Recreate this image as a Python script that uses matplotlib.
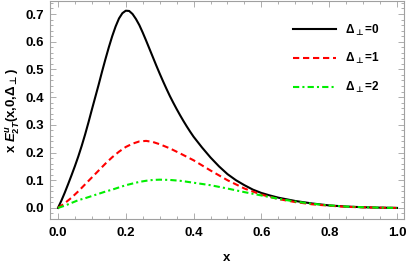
import numpy as np
import matplotlib
matplotlib.use("Agg")
import matplotlib.pyplot as plt
from matplotlib.ticker import MultipleLocator, FormatStrFormatter

plt.rcParams['font.family'] = ['Liberation Sans', 'DejaVu Sans']
plt.rcParams['font.weight'] = 'bold'
plt.rcParams['mathtext.fontset'] = 'custom'
plt.rcParams['mathtext.rm'] = 'Liberation Sans:bold'
plt.rcParams['mathtext.it'] = 'Liberation Sans:bold:italic'
plt.rcParams['mathtext.bf'] = 'Liberation Sans:bold'
plt.rcParams['mathtext.sf'] = 'DejaVu Sans:bold'
plt.rcParams['mathtext.fallback'] = 'stixsans'

# values
x_d0 = [0, 0.01, 0.02, 0.03, 0.04, 0.05, 0.06, 0.07, 0.08, 0.09, 0.10, 0.11,
        0.12, 0.13, 0.14, 0.15, 0.16, 0.17, 0.18, 0.19, 0.20, 0.21, 0.22, 0.23,
        0.24, 0.25, 0.26, 0.27, 0.28, 0.29, 0.30, 0.31, 0.32, 0.33, 0.34, 0.35,
        0.36, 0.37, 0.38, 0.39, 0.40, 0.425, 0.45, 0.475, 0.50, 0.525, 0.55,
        0.575, 0.60, 0.625, 0.65, 0.675, 0.70, 0.75, 0.80, 0.85, 0.90, 0.95, 1.0]
e_d0 = [0, 0.026, 0.055, 0.086, 0.118, 0.151, 0.186, 0.224, 0.265, 0.309,
        0.355, 0.400, 0.445, 0.492, 0.537, 0.580, 0.620, 0.655, 0.684, 0.703,
        0.712, 0.711, 0.700, 0.682, 0.660, 0.633, 0.604, 0.574, 0.544, 0.514,
        0.485, 0.457, 0.430, 0.404, 0.380, 0.357, 0.335, 0.314, 0.294, 0.275,
        0.257, 0.218, 0.182, 0.150, 0.122, 0.100, 0.082, 0.066, 0.054, 0.045,
        0.037, 0.031, 0.025, 0.016, 0.009, 0.005, 0.0025, 0.001, 0]

x_d12 = [0, 0.02, 0.04, 0.06, 0.08, 0.10, 0.12, 0.14, 0.16, 0.18, 0.20, 0.22,
         0.24, 0.26, 0.28, 0.30, 0.33, 0.36, 0.40, 0.45, 0.50, 0.55, 0.60, 0.65,
         0.70, 0.75, 0.80, 0.85, 0.90, 0.95, 1.0]
e_d1 = [0, 0.017, 0.037, 0.06, 0.085, 0.11, 0.135, 0.16, 0.183, 0.203, 0.22,
        0.232, 0.24, 0.242, 0.238, 0.23, 0.215, 0.197, 0.172, 0.135, 0.10,
        0.07, 0.048, 0.032, 0.021, 0.013, 0.008, 0.004, 0.002, 0.0008, 0]
e_d2 = [0, 0.008, 0.018, 0.028, 0.035, 0.043, 0.051, 0.059, 0.066, 0.074,
        0.082, 0.088, 0.094, 0.098, 0.101, 0.102, 0.101, 0.098, 0.091, 0.082,
        0.07, 0.057, 0.045, 0.033, 0.023, 0.015, 0.009, 0.005, 0.0025, 0.001, 0]
labels = [r'$\Delta_{\mathsf{\bot}}$=0', r'$\Delta_{\mathsf{\bot}}$=1',
          r'$\Delta_{\mathsf{\bot}}$=2']

fig = plt.figure(figsize=(4.09, 2.67), dpi=100)
ax = fig.add_axes([50 / 409, 48 / 267, 354 / 409, 218 / 267])

ax.plot(x_d0, e_d0, color='black', lw=1.5, label=labels[0])
ax.plot(x_d12, e_d1, color='#ff0000', lw=1.5, ls=(0, (3, 1.8)), label=labels[1])
ax.plot(x_d12, e_d2, color='#00ee00', lw=1.5, ls=(0, (3, 1.5, 1, 1.5)), label=labels[2])

ax.set_xlim(-0.0235, 1.0206)
ax.set_ylim(-0.04, 0.747)
ax.xaxis.set_major_locator(MultipleLocator(0.2))
ax.xaxis.set_minor_locator(MultipleLocator(0.05))
ax.yaxis.set_major_locator(MultipleLocator(0.1))
ax.yaxis.set_minor_locator(MultipleLocator(0.02))
ax.xaxis.set_major_formatter(FormatStrFormatter('%.1f'))
ax.yaxis.set_major_formatter(FormatStrFormatter('%.1f'))

frame = '#a0a0a0'
for s in ax.spines.values():
    s.set_color(frame)
    s.set_linewidth(0.8)
ax.tick_params(which='both', direction='in', top=True, right=True, color=frame,
               labelsize=9.5, width=0.6)
ax.tick_params(which='major', length=4)
ax.tick_params(which='minor', length=2)
ax.tick_params(axis='x', pad=6)
ax.tick_params(axis='y', pad=4)
for t in ax.get_xticklabels() + ax.get_yticklabels():
    t.set_fontweight('bold')

ax.set_xlabel('x', fontsize=9.5, fontweight='bold', labelpad=9)
ax.set_ylabel(r'x $E^{u}_{2T}$(x,0,$\Delta_{\mathsf{\bot}}$)', fontsize=9.5,
              fontweight='bold', labelpad=3)

leg = ax.legend(loc='upper left', bbox_to_anchor=(0.656, 0.95), frameon=False,
                fontsize=8.5, handlelength=3.65, labelspacing=1.15, handletextpad=0.76)
for t in leg.get_texts():
    t.set_fontweight('bold')

fig.savefig('out.png', dpi=100)
